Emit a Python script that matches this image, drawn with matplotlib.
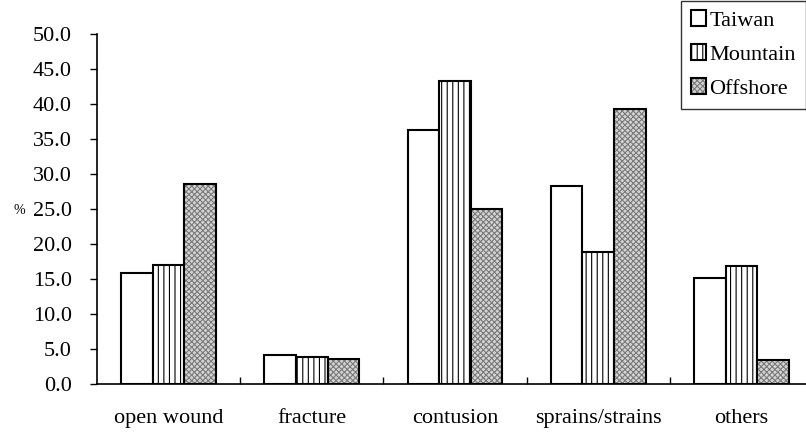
import matplotlib
matplotlib.use("Agg")
import matplotlib.pyplot as plt
import numpy as np
from matplotlib.legend_handler import HandlerTuple

categories = ["open wound", "fracture", "contusion", "sprains/strains", "others"]
taiwan = [15.9, 4.2, 36.3, 28.3, 15.2]
mountain = [17.0, 3.8, 43.3, 18.9, 16.9]
offshore = [28.6, 3.6, 25.0, 39.3, 3.5]
series_names = ["Taiwan", "Mountain", "Offshore"]
yticks = [0, 5, 10, 15, 20, 25, 30, 35, 40, 45, 50]

plt.rcParams['font.family'] = ['Liberation Serif', 'DejaVu Serif']
plt.rcParams['hatch.linewidth'] = 0.8

fig = plt.figure(figsize=(8.06, 4.33), dpi=100)
W, H = 806, 433
left, right, top, bottom = 97, 813, 34, 384
ax = fig.add_axes([left / W, (H - bottom) / H, (right - left) / W, (bottom - top) / H])

x = np.arange(len(categories)) + 0.5
bw = 0.221
lw = 1.5

b1 = ax.bar(x - bw, taiwan, bw, facecolor='white', edgecolor='black', linewidth=lw)
b2 = ax.bar(x, mountain, bw, facecolor='white', edgecolor='black', linewidth=lw, hatch='|||')
b3a = ax.bar(x + bw, offshore, bw, facecolor='#d4d4d4', edgecolor='#7a7a7a', linewidth=0, hatch='xxxxxx')
b3b = ax.bar(x + bw, offshore, bw, facecolor='none', edgecolor='black', linewidth=lw)

ax.set_xlim(0, len(categories))
ax.set_ylim(0, 50)
ax.set_yticks(yticks)
ax.set_yticklabels([f"{v:.1f}" for v in yticks])
ax.tick_params(axis='y', direction='out', length=5, width=1, pad=13, labelsize=16)

ax.set_xticks(x)
ax.set_xticklabels(categories)
ax.tick_params(axis='x', which='major', length=0, pad=18, labelsize=16)
ax.set_xticks(np.arange(1, len(categories)), minor=True)
ax.tick_params(axis='x', which='minor', direction='in', length=5, width=1)

for s in ['top', 'right']:
    ax.spines[s].set_visible(False)
for s in ['left', 'bottom']:
    ax.spines[s].set_linewidth(1.2)

fig.text(19 / W, 1 - 210 / H, "%", fontsize=10, ha='center', va='center')

leg = fig.legend([b1[0], b2[0], (b3a[0], b3b[0])], series_names,
                 handler_map={tuple: HandlerTuple(ndivide=1, pad=0)},
                 loc='upper right', bbox_to_anchor=(806 / W, 1 - 0.5 / H),
                 fontsize=16, frameon=True, fancybox=False, edgecolor='black',
                 handlelength=0.7, handleheight=0.7, handletextpad=0.15,
                 labelspacing=0.6, borderpad=0.45, borderaxespad=0)
leg.get_frame().set_linewidth(1.0)

fig.savefig("out.png", dpi=100)
